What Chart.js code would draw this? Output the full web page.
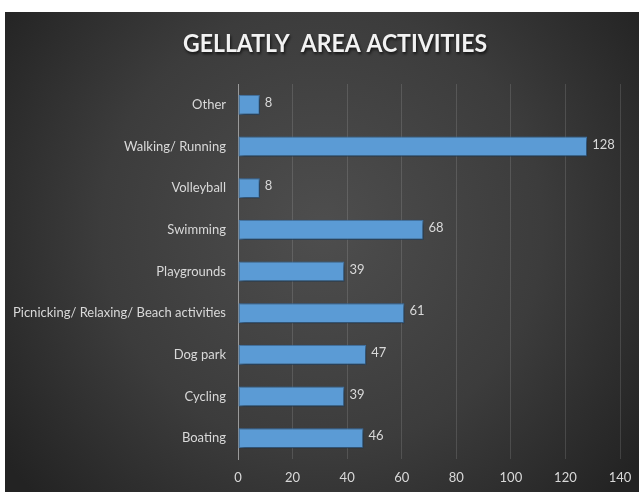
<!DOCTYPE html>
<html>
<head>
<meta charset="utf-8">
<script src="https://cdn.jsdelivr.net/npm/chart.js@4"></script>
<style>
  html, body { margin: 0; padding: 0; background: #ffffff; }
  #wrap { width: 639px; height: 495px; position: relative; }
</style>
</head>
<body>
<div id="wrap"><canvas id="c" width="639" height="495"></canvas></div>
<script>
const chartTitle = 'GELLATLY  AREA ACTIVITIES';
const categories = [
  'Other',
  'Walking/ Running',
  'Volleyball',
  'Swimming',
  'Playgrounds',
  'Picnicking/ Relaxing/ Beach activities',
  'Dog park',
  'Cycling',
  'Boating'
];
const counts = [8, 128, 8, 68, 39, 61, 47, 39, 46];
const xTicks = [0, 20, 40, 60, 80, 100, 120, 140];

const labelFont = "Lato, 'Open Sans', sans-serif";
const textGrey = '#d9d9d9';

// Dark panel with a soft radial glow behind the plot, plus the title.
const panelPlugin = {
  id: 'panel',
  beforeDraw(chart) {
    const ctx = chart.ctx;
    const W = chart.width, H = chart.height;
    ctx.save();
    ctx.fillStyle = '#ffffff';
    ctx.fillRect(0, 0, W, H);
    const px = 5, py = 12, pw = W - px, ph = H - py - 3;
    const g = ctx.createRadialGradient(px + pw * 0.5, py + ph * 0.45, 10, px + pw * 0.5, py + ph * 0.45, pw * 0.62);
    g.addColorStop(0, '#4d4d4d');
    g.addColorStop(0.55, '#3c3c3c');
    g.addColorStop(1, '#232323');
    ctx.fillStyle = g;
    ctx.fillRect(px, py, pw, ph);

    // title with a faint drop shadow
    ctx.font = "bold 24px " + labelFont;
    ctx.textAlign = 'center';
    ctx.textBaseline = 'middle';
    const target = 304;
    const w = ctx.measureText(chartTitle).width;
    const sx = target / w;
    ctx.translate(335, 44);
    ctx.scale(sx, 1);
    ctx.shadowColor = 'rgba(0,0,0,0.7)';
    ctx.shadowBlur = 3;
    ctx.shadowOffsetX = 1;
    ctx.shadowOffsetY = 2;
    ctx.fillStyle = '#f2f2f2';
    ctx.fillText(chartTitle, 0, 0);
    ctx.restore();
  }
};

// Soft drop shadow under the bars.
const barShadow = {
  id: 'barShadow',
  beforeDatasetsDraw(chart) {
    const ctx = chart.ctx;
    ctx.save();
    ctx.shadowColor = 'rgba(0,0,0,0.55)';
    ctx.shadowBlur = 4;
    ctx.shadowOffsetX = 2;
    ctx.shadowOffsetY = 2;
  },
  afterDatasetsDraw(chart) {
    chart.ctx.restore();
  }
};

// Value labels at the end of each bar.
const valueLabels = {
  id: 'valueLabels',
  afterDatasetsDraw(chart) {
    const ctx = chart.ctx;
    const meta = chart.getDatasetMeta(0);
    ctx.save();
    ctx.font = "13px " + labelFont;
    ctx.fillStyle = textGrey;
    ctx.textAlign = 'left';
    ctx.textBaseline = 'middle';
    meta.data.forEach((bar, i) => {
      ctx.fillText(String(counts[i]), bar.x + 5, bar.y - 2);
    });
    ctx.restore();
  }
};

function barFill(context) {
  const chart = context.chart;
  const el = context.element;
  if (!el || !chart.chartArea || !Number.isFinite(el.y) || !Number.isFinite(el.height)) return '#5b9bd5';
  const h = el.height / 2;
  const g = chart.ctx.createLinearGradient(0, el.y - h, 0, el.y + h);
  g.addColorStop(0, '#78b0e2');
  g.addColorStop(0.5, '#5d9dd7');
  g.addColorStop(1, '#4a89c8');
  return g;
}

new Chart(document.getElementById('c'), {
  type: 'bar',
  data: {
    labels: categories,
    datasets: [{
      data: counts,
      backgroundColor: barFill,
      borderColor: '#3f78b0',
      borderWidth: 1,
      borderSkipped: false,
      barPercentage: 0.96,
      categoryPercentage: 0.5
    }]
  },
  options: {
    indexAxis: 'y',
    responsive: false,
    animation: false,
    devicePixelRatio: 1,
    layout: { padding: { left: 5, right: 19, top: 84, bottom: 0 } },
    plugins: {
      legend: { display: false },
      title: { display: false },
      tooltip: { enabled: false }
    },
    scales: {
      x: {
        min: 0,
        max: 140,
        afterBuildTicks(scale) { scale.ticks = xTicks.map(v => ({ value: v })); },
        afterFit(scale) { scale.height = 36; },
        grid: {
          color: 'rgba(255,255,255,0.13)',
          lineWidth: 1,
          drawTicks: true,
          tickLength: 9,
          tickColor: 'rgba(0,0,0,0)'
        },
        border: { display: false },
        ticks: {
          color: textGrey,
          padding: 2,
          font: { family: labelFont, size: 13 }
        }
      },
      y: {
        afterFit(scale) { scale.width = 233; },
        grid: { display: false, drawTicks: false },
        border: { display: true, color: '#9a9a9a', width: 1 },
        ticks: {
          color: textGrey,
          padding: 12,
          font: { family: labelFont, size: 13 }
        }
      }
    }
  },
  plugins: [panelPlugin, barShadow, valueLabels]
});
</script>
</body>
</html>
